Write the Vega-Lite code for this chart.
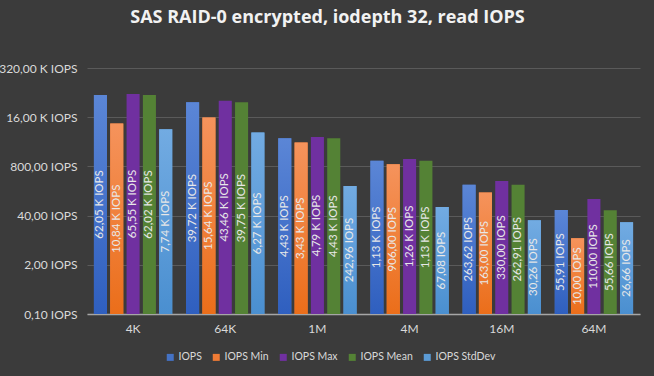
{
  "$schema": "https://vega.github.io/schema/vega-lite/v6.json",
  "autosize": "none",
  "width": 553,
  "height": 246,
  "padding": {"left": 87, "top": 68, "right": 14, "bottom": 62},
  "background": "#3b3b3b",
  "title": {
    "text": "SAS RAID-0 encrypted, iodepth 32, read IOPS",
    "font": "Open Sans",
    "fontSize": 18,
    "fontWeight": "bold",
    "color": "#f2f2f2",
    "anchor": "middle",
    "dx": -36,
    "offset": 35
  },
  "config": {
    "view": {"stroke": null},
    "axis": {"labelFont": "Lato", "labelColor": "#d9d9d9", "ticks": false, "title": null}
  },
  "data": {
    "values": [
      {"size": "4K", "series": "IOPS", "value": 62050, "label": "62,05 K IOPS"},
      {"size": "4K", "series": "IOPS Min", "value": 10840, "label": "10,84 K IOPS"},
      {"size": "4K", "series": "IOPS Max", "value": 65550, "label": "65,55 K IOPS"},
      {"size": "4K", "series": "IOPS Mean", "value": 62020, "label": "62,02 K IOPS"},
      {"size": "4K", "series": "IOPS StdDev", "value": 7740, "label": "7,74 K IOPS"},
      {"size": "64K", "series": "IOPS", "value": 39720, "label": "39,72 K IOPS"},
      {"size": "64K", "series": "IOPS Min", "value": 15640, "label": "15,64 K IOPS"},
      {"size": "64K", "series": "IOPS Max", "value": 43460, "label": "43,46 K IOPS"},
      {"size": "64K", "series": "IOPS Mean", "value": 39750, "label": "39,75 K IOPS"},
      {"size": "64K", "series": "IOPS StdDev", "value": 6270, "label": "6,27 K IOPS"},
      {"size": "1M", "series": "IOPS", "value": 4430, "label": "4,43 K IOPS"},
      {"size": "1M", "series": "IOPS Min", "value": 3430, "label": "3,43 K IOPS"},
      {"size": "1M", "series": "IOPS Max", "value": 4790, "label": "4,79 K IOPS"},
      {"size": "1M", "series": "IOPS Mean", "value": 4430, "label": "4,43 K IOPS"},
      {"size": "1M", "series": "IOPS StdDev", "value": 242.96, "label": "242,96  IOPS"},
      {"size": "4M", "series": "IOPS", "value": 1130, "label": "1,13 K IOPS"},
      {"size": "4M", "series": "IOPS Min", "value": 906, "label": "906,00  IOPS"},
      {"size": "4M", "series": "IOPS Max", "value": 1260, "label": "1,26 K IOPS"},
      {"size": "4M", "series": "IOPS Mean", "value": 1130, "label": "1,13 K IOPS"},
      {"size": "4M", "series": "IOPS StdDev", "value": 67.08, "label": "67,08  IOPS"},
      {"size": "16M", "series": "IOPS", "value": 263.62, "label": "263,62  IOPS"},
      {"size": "16M", "series": "IOPS Min", "value": 163, "label": "163,00  IOPS"},
      {"size": "16M", "series": "IOPS Max", "value": 330, "label": "330,00  IOPS"},
      {"size": "16M", "series": "IOPS Mean", "value": 262.91, "label": "262,91  IOPS"},
      {"size": "16M", "series": "IOPS StdDev", "value": 30.26, "label": "30,26  IOPS"},
      {"size": "64M", "series": "IOPS", "value": 55.91, "label": "55,91  IOPS"},
      {"size": "64M", "series": "IOPS Min", "value": 10, "label": "10,00  IOPS"},
      {"size": "64M", "series": "IOPS Max", "value": 110, "label": "110,00  IOPS"},
      {"size": "64M", "series": "IOPS Mean", "value": 55.66, "label": "55,66  IOPS"},
      {"size": "64M", "series": "IOPS StdDev", "value": 26.66, "label": "26,66  IOPS"}
    ]
  },
  "encoding": {
    "x": {
      "field": "size",
      "type": "nominal",
      "sort": ["4K", "64K", "1M", "4M", "16M", "64M"],
      "scale": {"paddingInner": 0.15, "paddingOuter": 0.075},
      "axis": {
        "labelAngle": 0,
        "labelFontSize": 12,
        "labelPadding": 9,
        "domainColor": "#a6a6a6",
        "domainWidth": 1.5,
        "grid": false
      }
    },
    "xOffset": {
      "field": "series",
      "type": "nominal",
      "sort": ["IOPS", "IOPS Min", "IOPS Max", "IOPS Mean", "IOPS StdDev"],
      "scale": {"domain": ["IOPS", "IOPS Min", "IOPS Max", "IOPS Mean", "IOPS StdDev"], "paddingInner": 0.2}
    }
  },
  "layer": [
    {
      "encoding": {
        "y": {
          "field": "value",
          "type": "quantitative",
          "stack": null,
          "scale": {"type": "log", "base": 20, "domain": [0.1, 320000], "nice": false},
          "axis": {
            "values": [0.1, 2, 40, 800, 16000, 320000],
            "labelExpr": "datum.value >= 1000 ? replace(format(datum.value / 1000, '.2f'), '.', ',') + ' K IOPS' : replace(format(datum.value, '.2f'), '.', ',') + '  IOPS'",
            "labelFontSize": 12,
            "labelPadding": 10,
            "domain": false,
            "grid": true,
            "gridColor": "#5a5a5a",
            "gridWidth": 1
          }
        },
        "y2": {"datum": 0.1}
      },
      "layer": [
        {
          "mark": {"type": "bar"},
          "encoding": {
            "color": {
              "field": "series",
              "type": "nominal",
              "sort": ["IOPS", "IOPS Min", "IOPS Max", "IOPS Mean", "IOPS StdDev"],
              "scale": {
                "domain": ["IOPS", "IOPS Min", "IOPS Max", "IOPS Mean", "IOPS StdDev"],
                "range": ["#4472c4", "#ef7b35", "#7030a0", "#548235", "#5b9bd5"]
              },
              "legend": {
                "title": null,
                "orient": "none",
                "direction": "horizontal",
                "legendX": 78,
                "legendY": 284,
                "symbolType": "square",
                "symbolSize": 49,
                "symbolStrokeWidth": 0,
                "labelColor": "#d9d9d9",
                "labelFont": "Lato",
                "labelFontSize": 10.5,
                "labelOffset": 3,
                "columnPadding": 9
              }
            }
          }
        },
        {
          "transform": [{"filter": "datum.series === 'IOPS'"}],
          "mark": {
            "type": "bar",
            "fill": {"gradient": "linear", "x1": 0, "y1": 0, "x2": 0, "y2": 1,
              "stops": [{"offset": 0, "color": "#5b86d6"}, {"offset": 1, "color": "#2f5fbf"}]}
          }
        },
        {
          "transform": [{"filter": "datum.series === 'IOPS Min'"}],
          "mark": {
            "type": "bar",
            "fill": {"gradient": "linear", "x1": 0, "y1": 0, "x2": 0, "y2": 1,
              "stops": [{"offset": 0, "color": "#f5935c"}, {"offset": 1, "color": "#eb6e1a"}]}
          }
        },
        {
          "transform": [{"filter": "datum.series === 'IOPS StdDev'"}],
          "mark": {
            "type": "bar",
            "fill": {"gradient": "linear", "x1": 0, "y1": 0, "x2": 0, "y2": 1,
              "stops": [{"offset": 0, "color": "#72abe2"}, {"offset": 1, "color": "#4a8fd0"}]}
          }
        }
      ]
    },
    {
      "mark": {"type": "text", "angle": -90, "align": "center", "baseline": "middle", "font": "Lato", "fontSize": 11.5, "color": "#e8e8e8"},
      "encoding": {
        "y": {
          "field": "value",
          "type": "quantitative",
          "scale": {"type": "log", "domain": [0.1, 1024000000000], "nice": false},
          "axis": null
        },
        "text": {"field": "label"}
      }
    }
  ],
  "resolve": {"scale": {"y": "independent"}}
}
